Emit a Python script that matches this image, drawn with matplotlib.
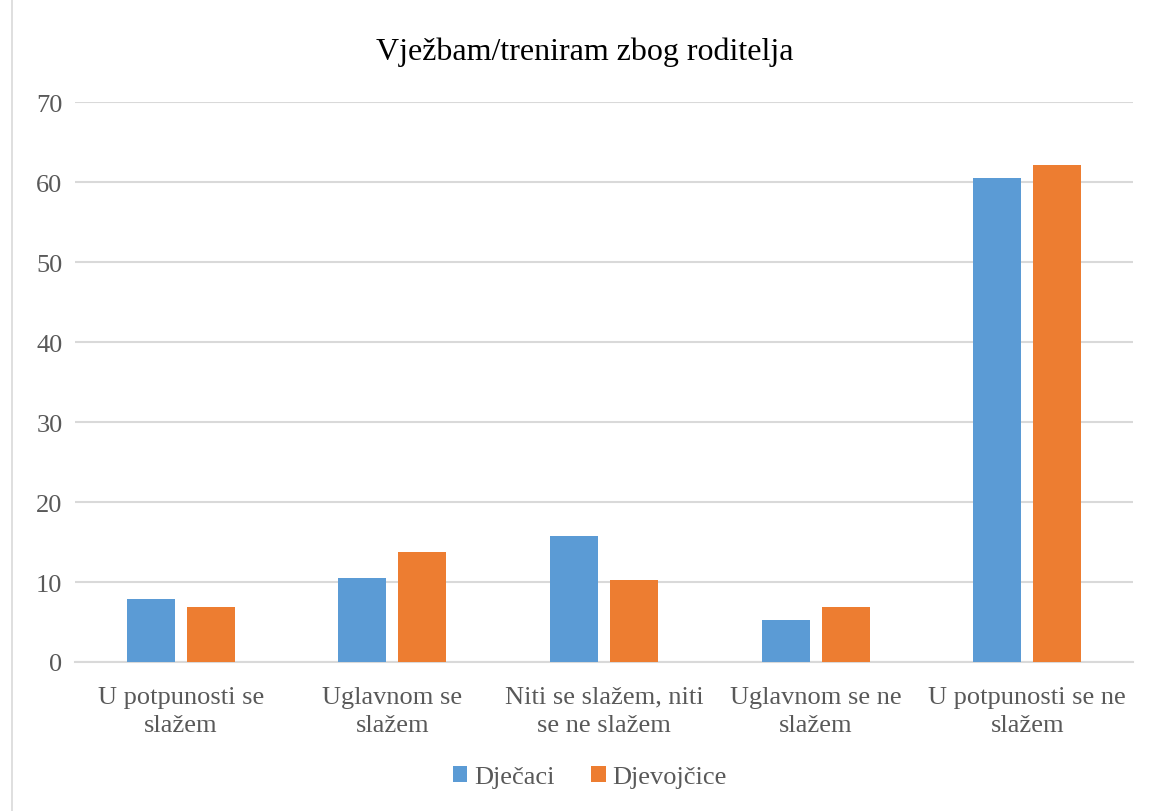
import numpy as np
import matplotlib.pyplot as plt
from matplotlib.lines import Line2D

# Data
categories = ['U potpunosti se\nslažem', 'Uglavnom se\nslažem', 'Niti se slažem, niti\nse ne slažem',
              'Uglavnom se ne\nslažem', 'U potpunosti se ne\nslažem']
djecaci = [7.9, 10.5, 15.8, 5.3, 60.5]
djevojcice = [6.9, 13.8, 10.3, 6.9, 62.1]
yticks = [0, 10, 20, 30, 40, 50, 60, 70]

plt.rcParams['font.family'] = ['Liberation Serif', 'DejaVu Serif']

fig = plt.figure(figsize=(11.52, 8.12), dpi=100)
ax = fig.add_axes([0.0651, 0.1835, 0.9184, 0.6895])

x = np.arange(len(categories))
w = 0.227
gap = 0.057
ax.bar(x - (w + gap) / 2, djecaci, w, color='#5B9BD5', label='Dječaci', zorder=3)
ax.bar(x + (w + gap) / 2, djevojcice, w, color='#ED7D31', label='Djevojčice', zorder=3)

ax.set_xlim(-0.5, len(categories) - 0.5)
ax.set_ylim(0, 70)
ax.set_yticks(yticks)
ax.yaxis.grid(True, color='#d9d9d9', linewidth=1.5, zorder=0)
for s in ['top', 'right', 'left']:
    ax.spines[s].set_visible(False)
ax.spines['bottom'].set_color('#d9d9d9')
ax.spines['bottom'].set_linewidth(1.5)
ax.tick_params(axis='both', length=0, labelsize=19, colors='#595959')
ax.tick_params(axis='x', pad=17)
ax.tick_params(axis='y', pad=9)
ax.set_xticks(x)
ax.set_xticklabels(categories, fontsize=19, color='#595959', linespacing=1.4)

fig.text(0.508, 0.936, 'Vježbam/treniram zbog roditelja', ha='center', va='center', fontsize=23, color='black')

fig.legend(loc='center', bbox_to_anchor=(0.512, 0.042), ncol=2, frameon=False, fontsize=19,
           handlelength=0.55, handleheight=0.55, handletextpad=0.25, columnspacing=1.4, labelcolor='#595959')

# thin border line at left edge
fig.add_artist(Line2D([0.0105, 0.0105], [0, 1], transform=fig.transFigure, color='#d9d9d9', linewidth=1.2))

fig.savefig('out.png', dpi=100)
